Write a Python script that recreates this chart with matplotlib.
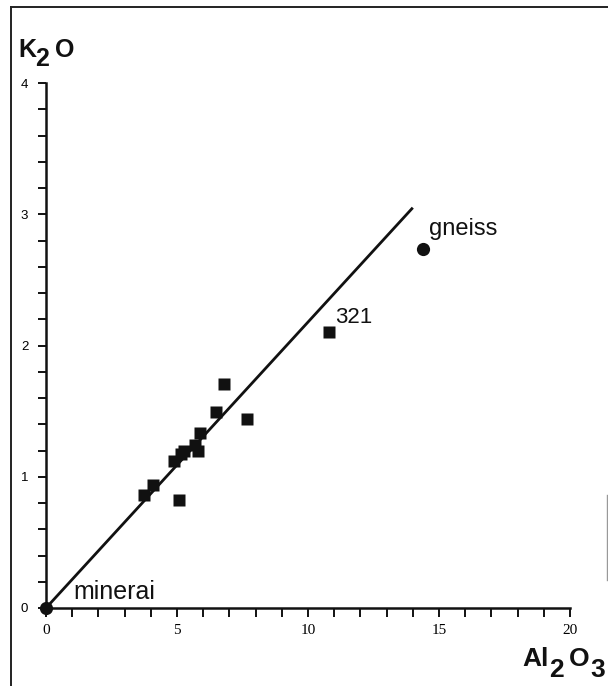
import matplotlib
matplotlib.use("Agg")
import matplotlib.pyplot as plt
from matplotlib.lines import Line2D
from matplotlib.ticker import MultipleLocator

# Data
al2o3 = [3.74, 4.08, 4.89, 5.08, 5.15, 5.27, 5.69, 5.80, 5.88, 6.49, 6.79, 7.67, 10.8]
k2o = [0.86, 0.94, 1.12, 0.82, 1.17, 1.20, 1.24, 1.20, 1.33, 1.49, 1.71, 1.44, 2.10]
gneiss_x, gneiss_y = [14.39], [2.735]
minerai_x, minerai_y = [0.0], [0.0]
line_x = [0.0, 14.0]
line_y = [0.0, 3.05]
xticks = [0, 5, 10, 15, 20]
yticks = [0, 1, 2, 3, 4]

W, H = 608, 686
fig = plt.figure(figsize=(W / 100, H / 100), dpi=100)

def fx(px):
    return px / W

def fy(py):
    return 1 - py / H

ax = fig.add_axes([fx(46), fy(608), (570 - 46) / W, (608 - 83) / H])
ax.set_xlim(0, 20)
ax.set_ylim(0, 4)
for s in ["top", "right"]:
    ax.spines[s].set_visible(False)
for s in ["left", "bottom"]:
    ax.spines[s].set_linewidth(1.8)
    ax.spines[s].set_color("#111111")

ax.plot(line_x, line_y, color="#111111", lw=2.0, solid_capstyle="butt")
ax.plot(al2o3, k2o, ls="none", marker="s", ms=8.6, color="#111111", mec="none")
ax.plot(gneiss_x, gneiss_y, ls="none", marker="o", ms=9.5, color="#111111", mec="none")
ax.plot(minerai_x, minerai_y, ls="none", marker="o", ms=9.5, color="#111111", mec="none", clip_on=False, zorder=5)

ax.text(14.62, 2.84, "gneiss", fontsize=17, family="Liberation Sans", color="#111111", va="baseline")
ax.text(11.03, 2.17, "321", fontsize=16, family="Liberation Sans", color="#111111", va="baseline")
ax.text(1.03, 0.07, "minerai", fontsize=18, family="Liberation Sans", color="#111111", va="baseline")

ax.set_xticks(xticks)
ax.set_yticks(yticks)
ax.xaxis.set_minor_locator(MultipleLocator(1))
ax.yaxis.set_minor_locator(MultipleLocator(0.2))
ax.tick_params(axis="x", which="both", direction="out", length=6.5, width=1.4, color="#111111", pad=5)
ax.tick_params(axis="y", which="both", direction="out", length=5.8, width=1.4, color="#111111", pad=7)
ax.set_xticklabels([str(v) for v in xticks], fontsize=11, family="Liberation Serif")
ax.set_yticklabels([str(v) for v in yticks], fontsize=9.5, family="Liberation Sans")

# Axis titles
bold = dict(family="Liberation Sans", fontweight="bold", color="#111111", va="baseline")
fig.text(fx(18), fy(57), "K", fontsize=18, **bold)
fig.text(fx(35), fy(66), "2", fontsize=18, **bold)
fig.text(fx(55), fy(57), "O", fontsize=18, **bold)
fig.text(fx(522), fy(666), "Al", fontsize=19, **bold)
fig.text(fx(549), fy(677), "2", fontsize=19, **bold)
fig.text(fx(569), fy(666), "O", fontsize=19, **bold)
fig.text(fx(590), fy(677), "3", fontsize=19, **bold)

# Frame
fig.add_artist(Line2D([fx(11), fx(608)], [fy(7), fy(7)], color="#222222", lw=1.4, transform=fig.transFigure))
fig.add_artist(Line2D([fx(11), fx(11)], [fy(7), fy(686)], color="#222222", lw=1.4, transform=fig.transFigure))
fig.add_artist(Line2D([fx(606.5), fx(606.5)], [fy(495), fy(580)], color="#999999", lw=1.0, transform=fig.transFigure))

fig.savefig("out.png", dpi=100)
